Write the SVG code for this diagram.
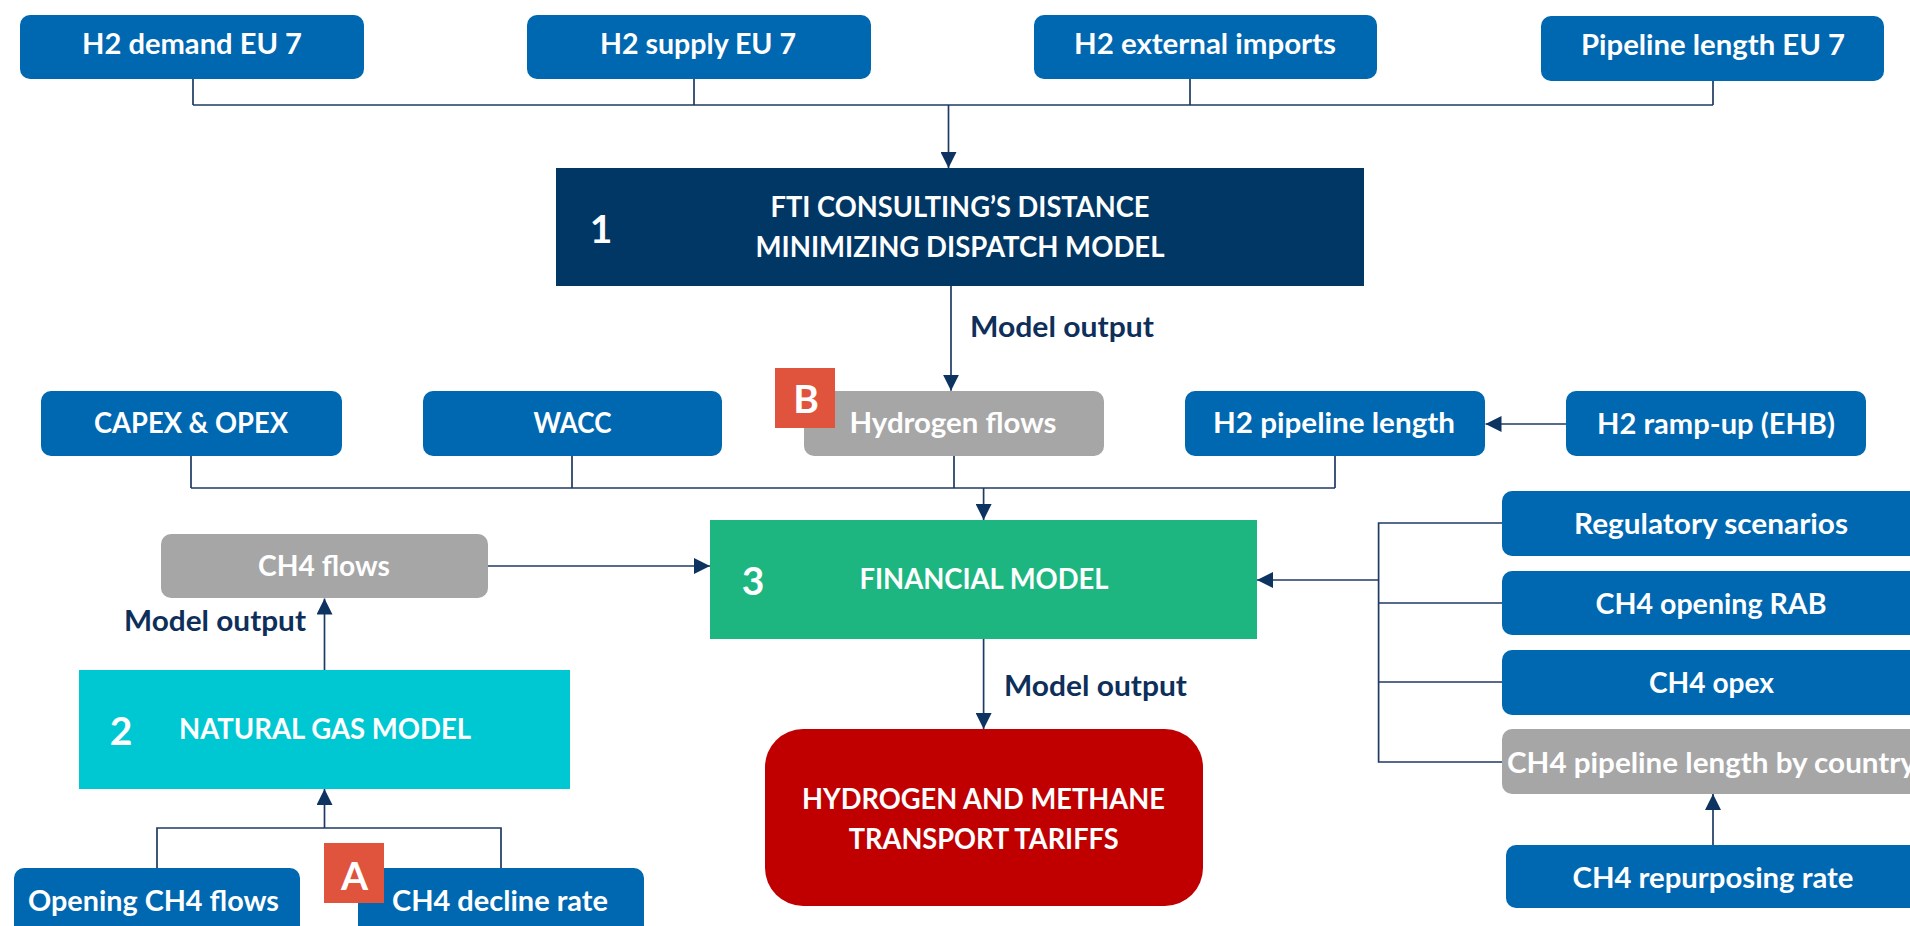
<svg xmlns="http://www.w3.org/2000/svg" width="1910" height="926" viewBox="0 0 1910 926">
<defs>
<style>
.t{font-family:Lato,"Open Sans","Liberation Sans",sans-serif;font-weight:700;fill:#ffffff;font-size:28px}
.c{text-anchor:middle}
.lbl{font-family:Lato,"Open Sans","Liberation Sans",sans-serif;font-weight:700;fill:#0e2f5a;font-size:28px}
.num{font-size:39px}
.blue{fill:#0067b1}
.gray{fill:#a6a6a6}
.badge{fill:#e0533d}
.ln{stroke:#1f3a63;stroke-width:1.7;fill:none}
.ar{stroke:#1f3a63;stroke-width:1.7;fill:none;marker-end:url(#ah)}
</style>
<marker id="ah" markerUnits="userSpaceOnUse" markerWidth="16" markerHeight="16" refX="16" refY="8" orient="auto">
<path d="M0,0 L16,8 L0,16 z" fill="#0d3360"/>
</marker>
</defs>
<rect width="1910" height="926" fill="#ffffff"/>

<g id="connectors">
<path class="ln" d="M193,79 V105 M694,79 V105 M1190,79 V105 M1713,81 V105 M193,105 H1713"/>
<path class="ar" d="M948.5,105 V168"/>
<path class="ar" d="M951,286 V390.7"/>
<path class="ln" d="M191,456 V488 M572,456 V488 M954,456 V488 M1335,456 V488 M191,488 H1335"/>
<path class="ar" d="M983.6,488 V520"/>
<path class="ar" d="M1566,424 H1485.5"/>
<path class="ar" d="M487.5,566 H710"/>
<path class="ln" d="M1502,523 H1378.6 V762 H1502 M1378.6,603 H1502 M1378.6,682 H1502"/>
<path class="ar" d="M1378.6,580 H1257"/>
<path class="ar" d="M1713,845 V794"/>
<path class="ar" d="M983.6,639 V729"/>
<path class="ar" d="M324.5,670 V598.5"/>
<path class="ln" d="M157,868 V828 H501 V868"/>
<path class="ar" d="M324.5,828 V789"/>
<text class="lbl" x="970" y="337" textLength="184" lengthAdjust="spacingAndGlyphs">Model output</text>
<text class="lbl" x="124" y="631" textLength="182" lengthAdjust="spacingAndGlyphs">Model output</text>
<text class="lbl" x="1004" y="696" textLength="183" lengthAdjust="spacingAndGlyphs">Model output</text>
</g>

<g id="n-h2demand">
<rect class="blue" x="20" y="15" width="344" height="64" rx="10"/>
<text class="t c" x="192" y="54" textLength="220" lengthAdjust="spacingAndGlyphs">H2 demand EU 7</text>
</g>
<g id="n-h2supply">
<rect class="blue" x="527" y="15" width="344" height="64" rx="10"/>
<text class="t c" x="698" y="54" textLength="196" lengthAdjust="spacingAndGlyphs">H2 supply EU 7</text>
</g>
<g id="n-h2imports">
<rect class="blue" x="1034" y="15" width="343" height="64" rx="10"/>
<text class="t c" x="1205" y="54" textLength="262" lengthAdjust="spacingAndGlyphs">H2 external imports</text>
</g>
<g id="n-pipelineeu">
<rect class="blue" x="1541" y="16" width="343" height="65" rx="10"/>
<text class="t c" x="1713" y="55" textLength="264" lengthAdjust="spacingAndGlyphs">Pipeline length EU 7</text>
</g>

<g id="n-model1">
<rect x="556" y="168" width="808" height="118" fill="#003764"/>
<text class="t c num" x="601" y="243">1</text>
<text class="t c" x="960" y="217" textLength="379" lengthAdjust="spacingAndGlyphs">FTI CONSULTING’S DISTANCE</text>
<text class="t c" x="960" y="257" textLength="409" lengthAdjust="spacingAndGlyphs">MINIMIZING DISPATCH MODEL</text>
</g>

<g id="n-capex">
<rect class="blue" x="41" y="391" width="301" height="65" rx="10"/>
<text class="t c" x="191" y="433" textLength="194" lengthAdjust="spacingAndGlyphs">CAPEX &amp; OPEX</text>
</g>
<g id="n-wacc">
<rect class="blue" x="423" y="391" width="299" height="65" rx="10"/>
<text class="t c" x="572.5" y="433" textLength="78" lengthAdjust="spacingAndGlyphs">WACC</text>
</g>
<g id="n-hflows">
<rect class="gray" x="804" y="391" width="300" height="65" rx="10"/>
<text class="t c" x="953" y="433" textLength="207" lengthAdjust="spacingAndGlyphs">Hydrogen flows</text>
<rect class="badge" x="775" y="368" width="60" height="60"/>
<text class="t c num" x="806" y="413">B</text>
</g>
<g id="n-h2pipe">
<rect class="blue" x="1185" y="391" width="300" height="65" rx="10"/>
<text class="t c" x="1334" y="433" textLength="242" lengthAdjust="spacingAndGlyphs">H2 pipeline length</text>
</g>
<g id="n-ramp">
<rect class="blue" x="1566" y="391" width="300" height="65" rx="10"/>
<text class="t c" x="1716" y="434" textLength="238" lengthAdjust="spacingAndGlyphs">H2 ramp-up (EHB)</text>
</g>

<g id="n-ch4flows">
<rect class="gray" x="161" y="534" width="327" height="64" rx="10"/>
<text class="t c" x="324" y="576" textLength="132" lengthAdjust="spacingAndGlyphs">CH4 flows</text>
</g>

<g id="n-ngmodel">
<rect x="79" y="670" width="491" height="119" fill="#00c8d3"/>
<text class="t c num" x="121" y="745">2</text>
<text class="t" x="179" y="739" textLength="292" lengthAdjust="spacingAndGlyphs">NATURAL GAS MODEL</text>
</g>

<g id="n-financial">
<rect x="710" y="520" width="547" height="119" fill="#1db681"/>
<text class="t c num" x="753" y="595">3</text>
<text class="t" x="859.5" y="589" textLength="249" lengthAdjust="spacingAndGlyphs">FINANCIAL MODEL</text>
</g>

<g id="n-tariffs">
<rect x="765" y="729" width="438" height="177" rx="38" fill="#c00000"/>
<text class="t c" x="983.5" y="809" textLength="363" lengthAdjust="spacingAndGlyphs">HYDROGEN AND METHANE</text>
<text class="t c" x="983.7" y="849" textLength="270" lengthAdjust="spacingAndGlyphs">TRANSPORT TARIFFS</text>
</g>

<g id="n-regulatory">
<rect class="blue" x="1502" y="491" width="440" height="65" rx="10"/>
<text class="t c" x="1711" y="534" textLength="274" lengthAdjust="spacingAndGlyphs">Regulatory scenarios</text>
</g>
<g id="n-rab">
<rect class="blue" x="1502" y="571" width="440" height="64" rx="10"/>
<text class="t c" x="1711" y="614" textLength="231" lengthAdjust="spacingAndGlyphs">CH4 opening RAB</text>
</g>
<g id="n-opex">
<rect class="blue" x="1502" y="650" width="440" height="65" rx="10"/>
<text class="t c" x="1711.5" y="693" textLength="125" lengthAdjust="spacingAndGlyphs">CH4 opex</text>
</g>
<g id="n-ch4pipe">
<rect class="gray" x="1502" y="729" width="440" height="65" rx="10"/>
<text class="t" x="1507" y="772.5" textLength="409" lengthAdjust="spacingAndGlyphs">CH4 pipeline length by country</text>
</g>
<g id="n-repurp">
<rect class="blue" x="1506" y="845" width="440" height="63" rx="10"/>
<text class="t c" x="1713" y="888" textLength="281" lengthAdjust="spacingAndGlyphs">CH4 repurposing rate</text>
</g>

<g id="n-opening">
<rect class="blue" x="14" y="868" width="286" height="80" rx="10"/>
<text class="t" x="28" y="911" textLength="251" lengthAdjust="spacingAndGlyphs">Opening CH4 flows</text>
</g>
<g id="n-decline">
<rect class="blue" x="358" y="868" width="286" height="80" rx="10"/>
<text class="t" x="392" y="911" textLength="216" lengthAdjust="spacingAndGlyphs">CH4 decline rate</text>
<rect class="badge" x="324" y="843" width="60" height="60"/>
<text class="t c num" x="354.5" y="889.5">A</text>
</g>
</svg>
